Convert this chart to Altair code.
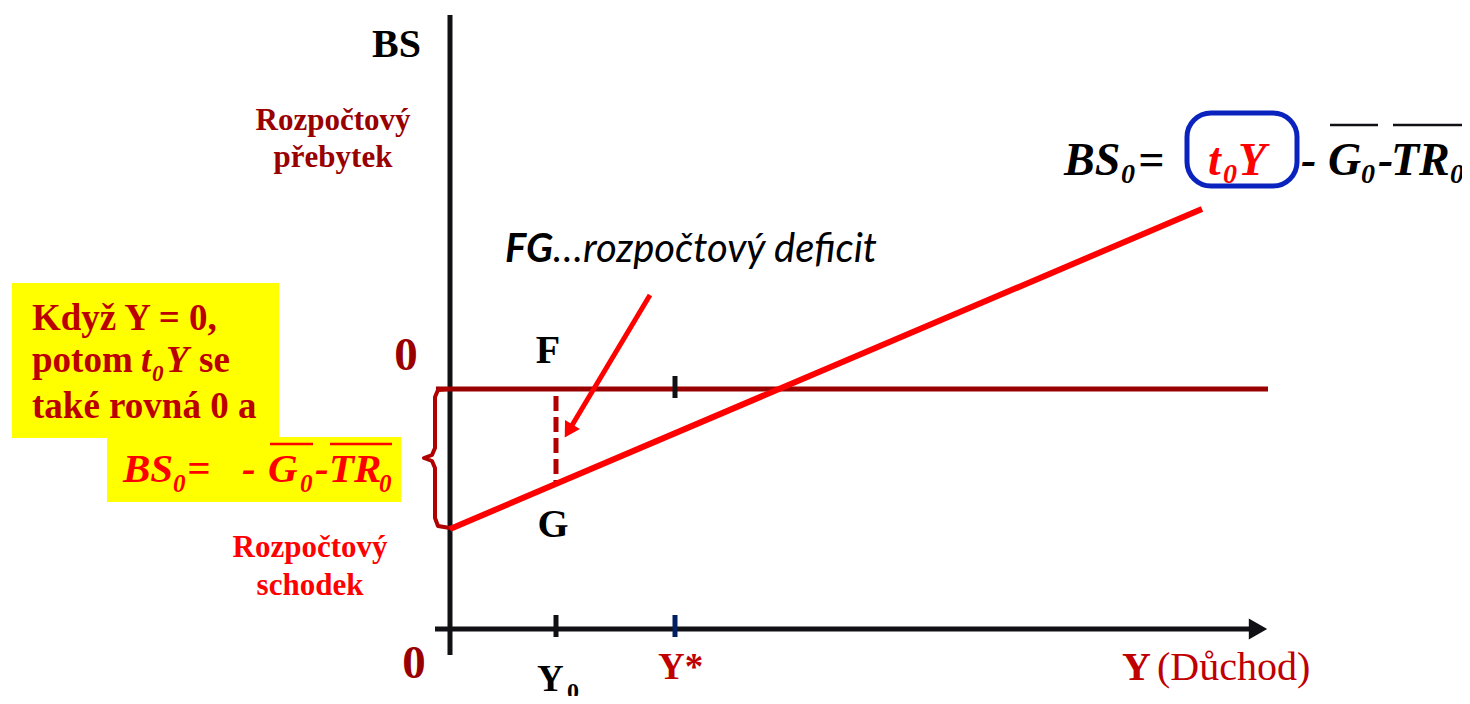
import altair as alt
import pandas as pd

# ---------------- data (income Y on x, budget surplus BS on y) ----------------
X_DOMAIN = [-4.42, 10.12]
Y_DOMAIN = [-3.07, 3.81]

# axes
v_axis_Y, v_axis_BS = [0.0, 0.0], [3.74, -2.66]
h_axis_Y, h_axis_BS = [-0.15, 7.99], [-2.40, -2.40]
h_arrow_Y, h_arrow_BS = [8.08], [-2.40]
# BS = 0 line
zero_Y, zero_BS = [-0.14, 8.18], [0.0, 0.0]
# tick marks: Y0, Y*
tick_Y = [1.06, 2.25]
tick_BS = [-2.26, -2.48]
zero_tick_Y, zero_tick_BS = [2.25, 2.25], [0.13, -0.09]
# budget surplus line BS0 = t0*Y - G0 - TR0
bs_Y, bs_BS = [0.0, 7.52], [-1.40, 1.80]
# deficit FG at Y0
fg_Y, fg_BS = [1.06, 1.06], [-0.07, -0.96]
# pointer arrow
ptr_Y, ptr_BS = [2.00, 1.186], [0.94, -0.42]
# curly brace
brace_Y = [-0.02, -0.12, -0.15, -0.15, -0.18, -0.26, -0.18, -0.15, -0.15, -0.12, 0.00]
brace_BS = [0.0, -0.01, -0.08, -0.59, -0.66, -0.69, -0.72, -0.79, -1.29, -1.37, -1.39]
# highlight boxes
box1_Y, box1_BS = [-4.38, -1.71], [1.06, -0.49]
box2_Y, box2_BS = [-3.43, -0.49], [-0.48, -1.13]
ring_Y, ring_BS = [7.37, 8.47], [2.76, 2.03]
# overlines
ov2_Y1, ov2_Y2, ov2_BS = [-1.80, -1.20], [-1.37, -0.58], [-0.55, -0.55]
ovt_Y1, ovt_Y2, ovt_BS = [8.80, 9.43], [9.28, 10.18], [2.64, 2.64]

SERIF = "Liberation Serif"
SANS = "Lato"

xs = alt.Scale(domain=X_DOMAIN, nice=False, zero=False)
ys = alt.Scale(domain=Y_DOMAIN, nice=False, zero=False)


def enc(ch):
    return ch.encode(x=alt.X("Y:Q", scale=xs, axis=None),
                     y=alt.Y("BS:Q", scale=ys, axis=None))


def seg(Y1, Y2, B1, B2, color, width, dash=None, cap="butt"):
    df = pd.DataFrame({"Y": Y1, "Y2": Y2, "BS": B1, "BS2": B2})
    kw = dict(color=color, strokeWidth=width, strokeCap=cap)
    if dash:
        kw["strokeDash"] = dash
    return alt.Chart(df).mark_rule(**kw).encode(
        x=alt.X("Y:Q", scale=xs, axis=None), x2="Y2:Q",
        y=alt.Y("BS:Q", scale=ys, axis=None), y2="BS2:Q")


def box(Yr, Br, **kw):
    df = pd.DataFrame({"Y": [Yr[0]], "Y2": [Yr[1]], "BS": [Br[0]], "BS2": [Br[1]]})
    return alt.Chart(df).mark_rect(**kw).encode(
        x=alt.X("Y:Q", scale=xs, axis=None), x2="Y2:Q",
        y=alt.Y("BS:Q", scale=ys, axis=None), y2="BS2:Q")


def txt(texts, Ys, Bs, color, size, weight="bold", style="normal", font=SERIF, align="left"):
    df = pd.DataFrame({"t": texts, "Y": Ys, "BS": Bs})
    return enc(alt.Chart(df).mark_text(font=font, fontSize=size, fontWeight=weight,
                                       fontStyle=style, align=align, baseline="alphabetic",
                                       color=color)).encode(text="t:N")


layers = []
# yellow boxes
layers.append(box(box1_Y, box1_BS, color="#FFFF00"))
layers.append(box(box2_Y, box2_BS, color="#FFFF00"))

# axes
layers.append(seg([v_axis_Y[0]], [v_axis_Y[1]], [v_axis_BS[0]], [v_axis_BS[1]], "#111015", 5))
layers.append(seg([h_axis_Y[0]], [h_axis_Y[1]], [h_axis_BS[0]], [h_axis_BS[1]], "#111015", 5))
layers.append(enc(alt.Chart(pd.DataFrame({"Y": h_arrow_Y, "BS": h_arrow_BS})).mark_point(
    shape="triangle-right", filled=True, size=450, color="#111015", opacity=1)))
# BS = 0 line
layers.append(seg([zero_Y[0]], [zero_Y[1]], [zero_BS[0]], [zero_BS[1]], "#990000", 5))
# ticks
layers.append(seg([tick_Y[0]], [tick_Y[0]], [tick_BS[0]], [tick_BS[1]], "#111015", 5))
layers.append(seg([tick_Y[1]], [tick_Y[1]], [tick_BS[0]], [tick_BS[1]], "#002060", 5))
layers.append(seg([zero_tick_Y[0]], [zero_tick_Y[1]], [zero_tick_BS[0]], [zero_tick_BS[1]], "#111015", 5))
# brace
layers.append(enc(alt.Chart(pd.DataFrame({"Y": brace_Y, "BS": brace_BS, "i": range(len(brace_Y))}))
                  .mark_line(color="#B00000", strokeWidth=4, strokeJoin="round", strokeCap="round"))
              .encode(order="i:Q"))
# deficit dashed
layers.append(seg([fg_Y[0]], [fg_Y[1]], [fg_BS[0]], [fg_BS[1]], "#B00000", 5, dash=[15, 6]))
# BS line
layers.append(seg([bs_Y[0]], [bs_Y[1]], [bs_BS[0]], [bs_BS[1]], "#FF0000", 6))
# pointer arrow
layers.append(seg([ptr_Y[0]], [ptr_Y[1]], [ptr_BS[0]], [ptr_BS[1]], "#FF0000", 5))
layers.append(enc(alt.Chart(pd.DataFrame({"Y": [ptr_Y[1]], "BS": [ptr_BS[1]]})).mark_point(
    shape="triangle-up", angle=211, filled=True, size=300, color="#FF0000", opacity=1)))
# blue ring
layers.append(box(ring_Y, ring_BS, filled=False, color="#0A23BE", strokeWidth=5, cornerRadius=24))
# overlines
layers.append(seg(ov2_Y1, ov2_Y2, ov2_BS, ov2_BS, "#FF0000", 2.5))
layers.append(seg(ovt_Y1, ovt_Y2, ovt_BS, ovt_BS, "#111015", 2.5))

# ---------------- texts ----------------
layers.append(txt(["BS"], [-0.78], [3.32], "black", 40))
layers.append(txt(["Rozpočtový", "přebytek"], [-1.17, -1.17], [2.59, 2.22], "#990000", 31, align="center"))
layers.append(txt(["Rozpočtový", "schodek"], [-1.40, -1.40], [-1.68, -2.06], "#FF0000", 31, align="center"))
layers.append(txt(["0", "0"], [-0.44, -0.36], [0.19, -2.89], "#990000", 47, align="center"))
layers.append(txt(["F", "G"], [0.98, 1.03], [0.26, -1.48], "black", 40, align="center"))
layers.append(txt(["Y"], [0.87], [-3.02], "black", 37))
layers.append(txt(["0"], [1.17], [-3.10], "black", 24))
layers.append(txt(["Y*"], [2.08], [-2.90], "#C00000", 37))
layers.append(txt(["Y"], [6.72], [-2.91], "#C00000", 40))
layers.append(txt(["(Důchod)"], [7.07], [-2.91], "#C00000", 40, weight="normal"))
# box 1
layers.append(txt(["Když Y = 0,", "potom", "se", "také rovná 0 a"],
                  [-4.18, -4.18, -2.51, -4.18], [0.59, 0.17, 0.17, -0.29], "#BB0000", 37))
layers.append(txt(["t", "Y"], [-3.09, -2.84], [0.17, 0.17], "#BB0000", 37, style="italic"))
layers.append(txt(["0"], [-2.98], [0.08], "#BB0000", 23, style="italic"))
# box 2 formula
layers.append(txt(["BS", "=", "-", "G", "-", "TR"],
                  [-3.27, -2.63, -2.08, -1.82, -1.35, -1.21], [-0.93] * 6, "#FF0000", 41, style="italic"))
layers.append(txt(["0", "0", "0"], [-2.77, -1.50, -0.71], [-1.03] * 3, "#FF0000", 25, style="italic"))
# top-right formula
layers.append(txt(["BS", "=", "-", "G", "-", "TR"],
                  [6.14, 6.88, 8.51, 8.78, 9.28, 9.41], [2.14] * 6, "black", 46, style="italic"))
layers.append(txt(["0", "0", "0"], [6.71, 9.11, 10.00], [2.06] * 3, "black", 28, style="italic"))
layers.append(txt(["t", "Y"], [7.58, 7.88], [2.14, 2.14], "#FF0000", 46, style="italic"))
layers.append(txt(["0"], [7.73], [2.06], "#FF0000", 28, style="italic"))
# FG annotation
layers.append(txt(["FG"], [0.55], [1.27], "black", 40, style="italic", font=SANS))
layers.append(txt(["…rozpočtový deficit"], [1.03], [1.27], "black", 40, weight="normal", style="italic", font=SANS))

chart = alt.layer(*layers).properties(
    width=1454, height=688, padding=0, autosize=alt.AutoSizeParams(type="none"),
    background="white"
).configure_view(stroke=None)

chart.save("out.html", embed_options={"renderer": "svg", "actions": False})
